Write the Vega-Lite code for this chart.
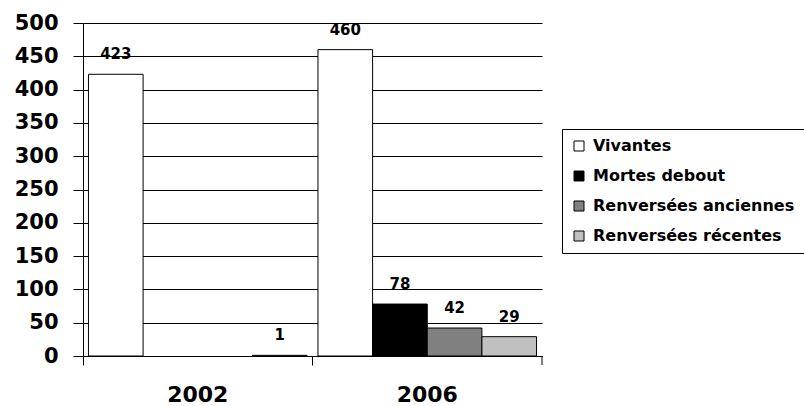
{
  "$schema": "https://vega.github.io/schema/vega-lite/v6.json",
  "autosize": "none",
  "padding": {"left": 83, "top": 23, "right": 262, "bottom": 50},
  "width": 459,
  "height": 333,
  "config": {
    "font": "DejaVu Sans",
    "view": {"stroke": null},
    "axis": {
      "domainColor": "black",
      "tickColor": "black",
      "gridColor": "black",
      "gridOpacity": 1,
      "labelColor": "black",
      "labelFont": "DejaVu Sans",
      "labelFontWeight": "bold",
      "labelOverlap": false
    }
  },
  "data": {
    "values": [
      {"annee": "2002", "etat": "Vivantes", "nombre": 423},
      {"annee": "2002", "etat": "Renversées récentes", "nombre": 1},
      {"annee": "2006", "etat": "Vivantes", "nombre": 460},
      {"annee": "2006", "etat": "Mortes debout", "nombre": 78},
      {"annee": "2006", "etat": "Renversées anciennes", "nombre": 42},
      {"annee": "2006", "etat": "Renversées récentes", "nombre": 29}
    ]
  },
  "encoding": {
    "x": {
      "field": "annee",
      "type": "nominal",
      "scale": {"paddingInner": 0, "paddingOuter": 0},
      "axis": {
        "title": null,
        "labelAngle": 0,
        "labelFontSize": 22,
        "labelPadding": 19,
        "tickSize": 9,
        "bandPosition": 0
      }
    },
    "xOffset": {
      "field": "etat",
      "scale": {
        "domain": ["Vivantes", "Mortes debout", "Renversées anciennes", "Renversées récentes"],
        "paddingInner": 0,
        "paddingOuter": 0.1
      }
    },
    "y": {
      "field": "nombre",
      "type": "quantitative",
      "scale": {"domain": [0, 500], "nice": false},
      "axis": {
        "title": null,
        "values": [0, 50, 100, 150, 200, 250, 300, 350, 400, 450, 500],
        "labelFontSize": 21,
        "labelPadding": 15,
        "tickSize": 10,
        "grid": true,
        "gridWidth": 1
      }
    }
  },
  "layer": [
    {
      "mark": {"type": "bar", "stroke": "black", "strokeWidth": 1},
      "encoding": {
        "color": {
          "field": "etat",
          "type": "nominal",
          "scale": {
            "domain": ["Vivantes", "Mortes debout", "Renversées anciennes", "Renversées récentes"],
            "range": ["#ffffff", "#000000", "#808080", "#c0c0c0"]
          },
          "legend": {
            "orient": "none",
            "legendX": 479,
            "legendY": 106,
            "title": null,
            "symbolType": "square",
            "symbolSize": 100,
            "symbolStrokeColor": "black",
            "symbolStrokeWidth": 1,
            "symbolOpacity": 1,
            "labelFont": "DejaVu Sans",
            "labelFontSize": 16,
            "labelFontWeight": "bold",
            "labelColor": "black",
            "labelOffset": 6,
            "labelLimit": 400,
            "strokeColor": "black",
            "fillColor": "white",
            "padding": 9,
            "rowPadding": 14
          }
        }
      }
    },
    {
      "mark": {"type": "text", "fontSize": 15, "fontWeight": "bold", "color": "black", "baseline": "middle", "dy": -20},
      "encoding": {
        "text": {"field": "nombre", "type": "quantitative"}
      }
    },
    {
      "data": {"values": [{"annee": "2006", "nombre": 0}]},
      "mark": {"type": "rule", "color": "black", "strokeWidth": 1, "y2Offset": 9, "clip": false},
      "encoding": {
        "x": {"field": "annee", "type": "nominal", "bandPosition": 1},
        "xOffset": null,
        "y2": {"field": "nombre"}
      }
    }
  ]
}
